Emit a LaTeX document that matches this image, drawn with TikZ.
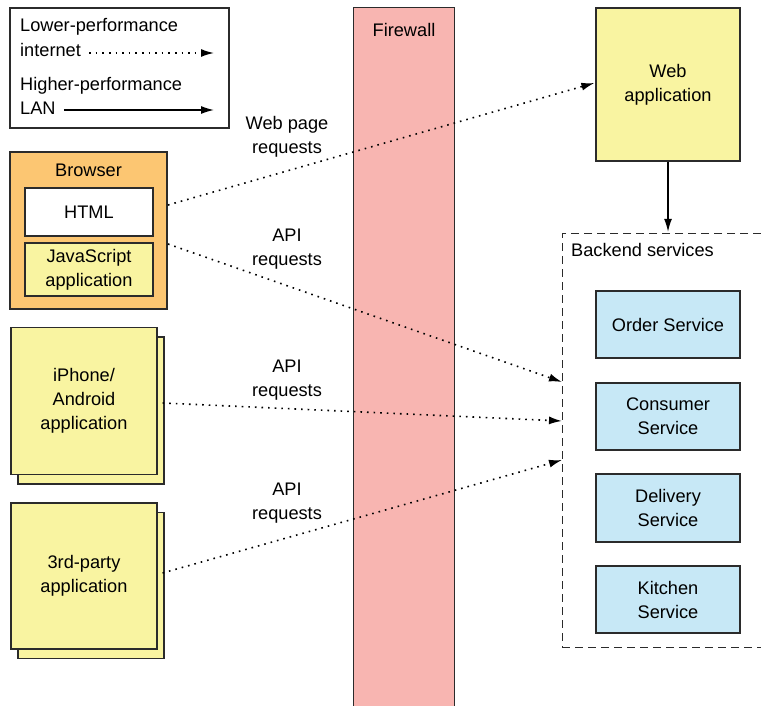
\documentclass[tikz,border=0pt]{standalone}
\usepackage{fontspec}
\setmainfont{Liberation Sans}
\usetikzlibrary{arrows.meta,calc}
\definecolor{bordergray}{HTML}{2B2B2B}
\definecolor{browserorange}{HTML}{FCC672}
\definecolor{appyellow}{HTML}{F9F4A1}
\definecolor{firepink}{HTML}{F8B5B1}
\definecolor{svcblue}{HTML}{C7E8F6}
\tikzset{
  every node/.style={font=\fontsize{18.2}{24}\selectfont, text=black},
  boxed/.style={draw=bordergray, line width=1.2pt, inner sep=0pt, align=center},
  lbl/.style={align=center, inner sep=0pt},
  dotline/.style={line width=1.6pt, dash pattern=on 1.6pt off 5pt, -{Latex[length=13pt,width=8pt]}},
  solidline/.style={line width=1.3pt, -{Latex[length=13pt,width=8pt]}},
}
\begin{document}
\begin{tikzpicture}[x=1pt,y=-1pt]
\useasboundingbox (0,0) rectangle (761,706);
\fill[white] (0,0) rectangle (761,706);

% legend
\node[boxed, minimum width=219pt, minimum height=120pt] (legend) at (119.5,68) {};
\node[lbl, anchor=west, text height=13pt, text depth=4pt] (l1) at (20,27) {Lower-performance};
\node[lbl, anchor=west, text height=13pt, text depth=4pt] (l2) at (20,52) {internet};
\node[lbl, anchor=west, text height=13pt, text depth=4pt] (l3) at (20,86) {Higher-performance};
\node[lbl, anchor=west, text height=13pt, text depth=4pt] (l4) at (20,110) {LAN};
\coordinate (le1) at (214,53);
\coordinate (le2) at (214,110);
\draw[dotline] ($(l2.east)+(8,1)$) -- (le1);
\draw[solidline] ($(l4.east)+(8,0)$) -- (le2);

% firewall
\node[fill=firepink, minimum width=100pt, minimum height=698pt, inner sep=0pt] (firewall) at (404,357) {};
\draw[draw=bordergray, line width=1.2pt] (firewall.south west) -- (firewall.north west) -- (firewall.north east) -- (firewall.south east);
\node[lbl] (fwlabel) at (404,30) {Firewall};

% browser
\node[boxed, fill=browserorange, minimum width=157pt, minimum height=157pt] (browser) at (88.5,230.5) {};
\node[lbl] (browserlabel) at (88.5,170) {Browser};
\node[boxed, fill=white, minimum width=128pt, minimum height=48pt] (html) at (89,212) {HTML};
\node[boxed, fill=appyellow, minimum width=128pt, minimum height=53pt] (js) at (89,269.5) {JavaScript\\application};

% iPhone / Android stack
\node[boxed, fill=appyellow, minimum width=146pt, minimum height=147pt] (iphoneback) at (91,410.5) {};
\node[boxed, fill=appyellow, minimum width=146pt, minimum height=147pt] (iphone) at (84,401) {iPhone/\\Android\\application};

% 3rd-party stack
\node[boxed, fill=appyellow, minimum width=146pt, minimum height=146pt] (thirdback) at (91,585.5) {};
\node[boxed, fill=appyellow, minimum width=146pt, minimum height=146pt] (third) at (84,576) {3rd-party\\application};

% web application
\node[boxed, fill=appyellow, minimum width=144pt, minimum height=153pt] (web) at (668,84.5) {Web\\application};

% backend services
\node[minimum width=198pt, minimum height=413pt, inner sep=0pt] (backend) at (662,440.5) {};
\draw[draw=bordergray, line width=1.3pt, dash pattern=on 8pt off 5pt] (backend.north east) -- (backend.north west) -- (backend.south west) -- (backend.south east);
\node[lbl, anchor=west] (backendlabel) at (571,250) {Backend services};

\node[boxed, fill=svcblue, minimum width=144pt, minimum height=67pt] (order) at (668,324.5) {Order Service};
\node[boxed, fill=svcblue, minimum width=144pt, minimum height=67pt] (consumer) at (668,416.5) {Consumer\\Service};
\node[boxed, fill=svcblue, minimum width=144pt, minimum height=68pt] (delivery) at (668,508) {Delivery\\Service};
\node[boxed, fill=svcblue, minimum width=144pt, minimum height=67pt] (kitchen) at (668,599.5) {Kitchen\\Service};

% labels
\node[lbl] (lblweb) at (287,137) {Web page\\requests};
\node[lbl] (lblapi1) at (287,249) {API\\requests};
\node[lbl] (lblapi2) at (287,380) {API\\requests};
\node[lbl] (lblapi3) at (287,503) {API\\requests};

% connectors
\coordinate (s1) at (168,205);
\coordinate (s2) at (168,244);
\coordinate (t2) at (562,382);
\coordinate (t3) at (562,421);
\coordinate (t4) at (562,460);
\draw[dotline] (s1) -- ($(web.west)+(-1,-1.5)$);
\draw[dotline] (s2) -- (t2);
\draw[dotline] ($(iphone.east)+(5,2)$) -- (t3);
\draw[dotline] ($(third.east)+(5,-3)$) -- (t4);
\draw[solidline] (web.south) -- ($(web.south |- backend.north)+(0,-2)$);
\end{tikzpicture}
\end{document}
